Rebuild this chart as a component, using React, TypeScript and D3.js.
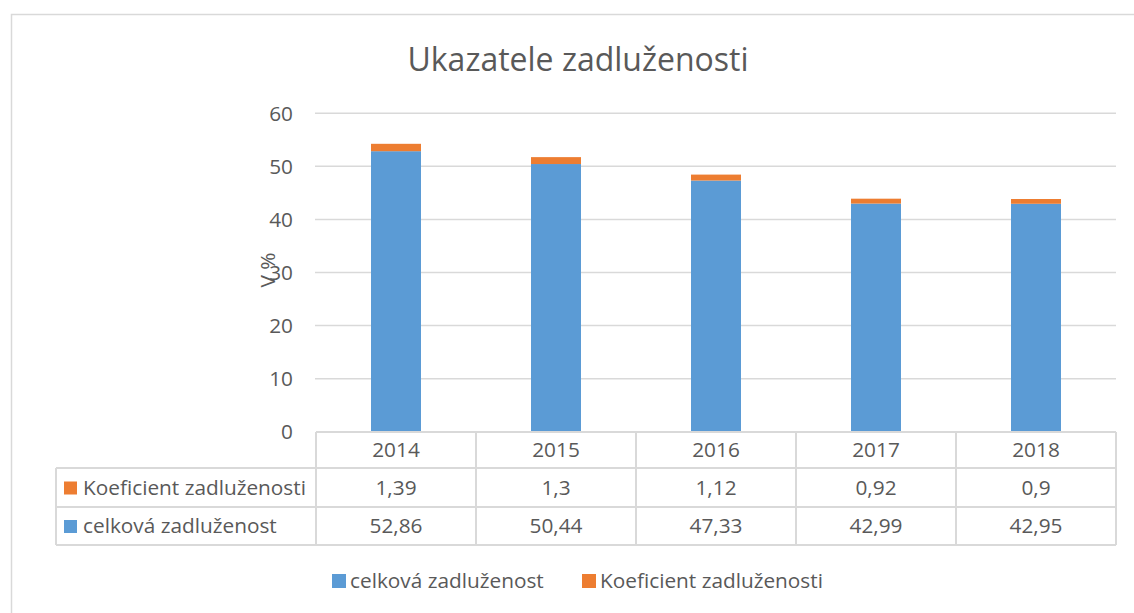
import React from 'react';
import * as d3 from 'd3';

const YEARS = ['2014', '2015', '2016', '2017', '2018'];
const CELKOVA = [52.86, 50.44, 47.33, 42.99, 42.95];
const KOEFICIENT = [1.39, 1.3, 1.12, 0.92, 0.9];
const Y_TICKS = [0, 10, 20, 30, 40, 50, 60];

const BLUE = '#5b9bd5';
const ORANGE = '#ed7d31';
const TEXT = '#595959';
const GRID = '#d9d9d9';
const FONT = '"Open Sans", Lato, sans-serif';
const FS = 20.8;

const fmt = (v: number) => String(v).replace('.', ',');

const App = () => {
  const x = d3.scaleBand().domain(YEARS).range([316, 1116]).paddingInner(0).paddingOuter(0);
  const y = d3.scaleLinear().domain([0, 60]).range([431.7, 113.3]);
  const barW = 50;

  const rows = [
    { name: 'Koeficient zadluženosti', color: ORANGE, values: KOEFICIENT },
    { name: 'celková zadluženost', color: BLUE, values: CELKOVA },
  ];
  const rowTop = [432, 468, 507, 545];

  return (
    <svg width={1134} height={613} style={{ position: 'absolute', left: 0, top: 0 }} fontFamily={FONT}>
      <rect x={0} y={0} width={1134} height={613} fill="#fff" />
      <rect x={11.5} y={14.5} width={1140} height={620} fill="none" stroke={GRID} strokeWidth={1.5} />

      <text x={578} y={71} textAnchor="middle" fontSize={32} fill={TEXT}>Ukazatele zadluženosti</text>

      {/* gridlines + y labels */}
      {Y_TICKS.map(t => (
        <g key={t}>
          {t > 0 && <line x1={315} x2={1116} y1={y(t)} y2={y(t)} stroke={GRID} strokeWidth={1.5} />}
          <text x={293} y={y(t)} dy="0.35em" textAnchor="end" fontSize={FS} fill={TEXT}>{t}</text>
        </g>
      ))}

      <text transform="translate(275,270) rotate(-90)" textAnchor="middle" fontSize={FS} fill={TEXT}>V %</text>

      {/* stacked bars */}
      {YEARS.map((yr, i) => {
        const cx = (x(yr) as number) + x.bandwidth() / 2;
        const top1 = y(CELKOVA[i]);
        const top2 = y(CELKOVA[i] + KOEFICIENT[i]);
        return (
          <g key={yr}>
            <rect x={cx - barW / 2} y={top1} width={barW} height={y(0) - top1} fill={BLUE} />
            <rect x={cx - barW / 2} y={top2} width={barW} height={top1 - top2} fill={ORANGE} />
          </g>
        );
      })}

      {/* data table */}
      <g stroke={GRID} strokeWidth={2} fill="none">
        <line x1={316} x2={1116} y1={rowTop[0]} y2={rowTop[0]} />
        {rowTop.slice(1).map(r => (
          <line key={r} x1={56} x2={1116} y1={r} y2={r} />
        ))}
        <line x1={56} x2={56} y1={rowTop[1]} y2={rowTop[3]} />
        {YEARS.map(yr => (
          <line key={yr} x1={x(yr) as number} x2={x(yr) as number} y1={rowTop[0]} y2={rowTop[3]} />
        ))}
        <line x1={1116} x2={1116} y1={rowTop[0]} y2={rowTop[3]} />
      </g>
      {YEARS.map(yr => (
        <text key={yr} x={(x(yr) as number) + x.bandwidth() / 2} y={(rowTop[0] + rowTop[1]) / 2} dy="0.35em" textAnchor="middle" fontSize={FS} fill={TEXT}>{yr}</text>
      ))}
      {rows.map((r, ri) => {
        const cy = (rowTop[ri + 1] + rowTop[ri + 2]) / 2;
        return (
          <g key={r.name}>
            <rect x={64} y={cy - 6} width={13} height={13} fill={r.color} />
            <text x={83} y={cy} dy="0.35em" fontSize={FS} fill={TEXT}>{r.name}</text>
            {r.values.map((v, i) => (
              <text key={i} x={(x(YEARS[i]) as number) + x.bandwidth() / 2} y={cy} dy="0.35em" textAnchor="middle" fontSize={FS} fill={TEXT}>{fmt(v)}</text>
            ))}
          </g>
        );
      })}

      {/* legend */}
      {[{ name: 'celková zadluženost', color: BLUE, lx: 332 }, { name: 'Koeficient zadluženosti', color: ORANGE, lx: 582 }].map(l => (
        <g key={l.name}>
          <rect x={l.lx} y={574} width={14} height={14} fill={l.color} />
          <text x={l.lx + 18} y={581} dy="0.35em" fontSize={FS} fill={TEXT}>{l.name}</text>
        </g>
      ))}
    </svg>
  );
};

export default App;
